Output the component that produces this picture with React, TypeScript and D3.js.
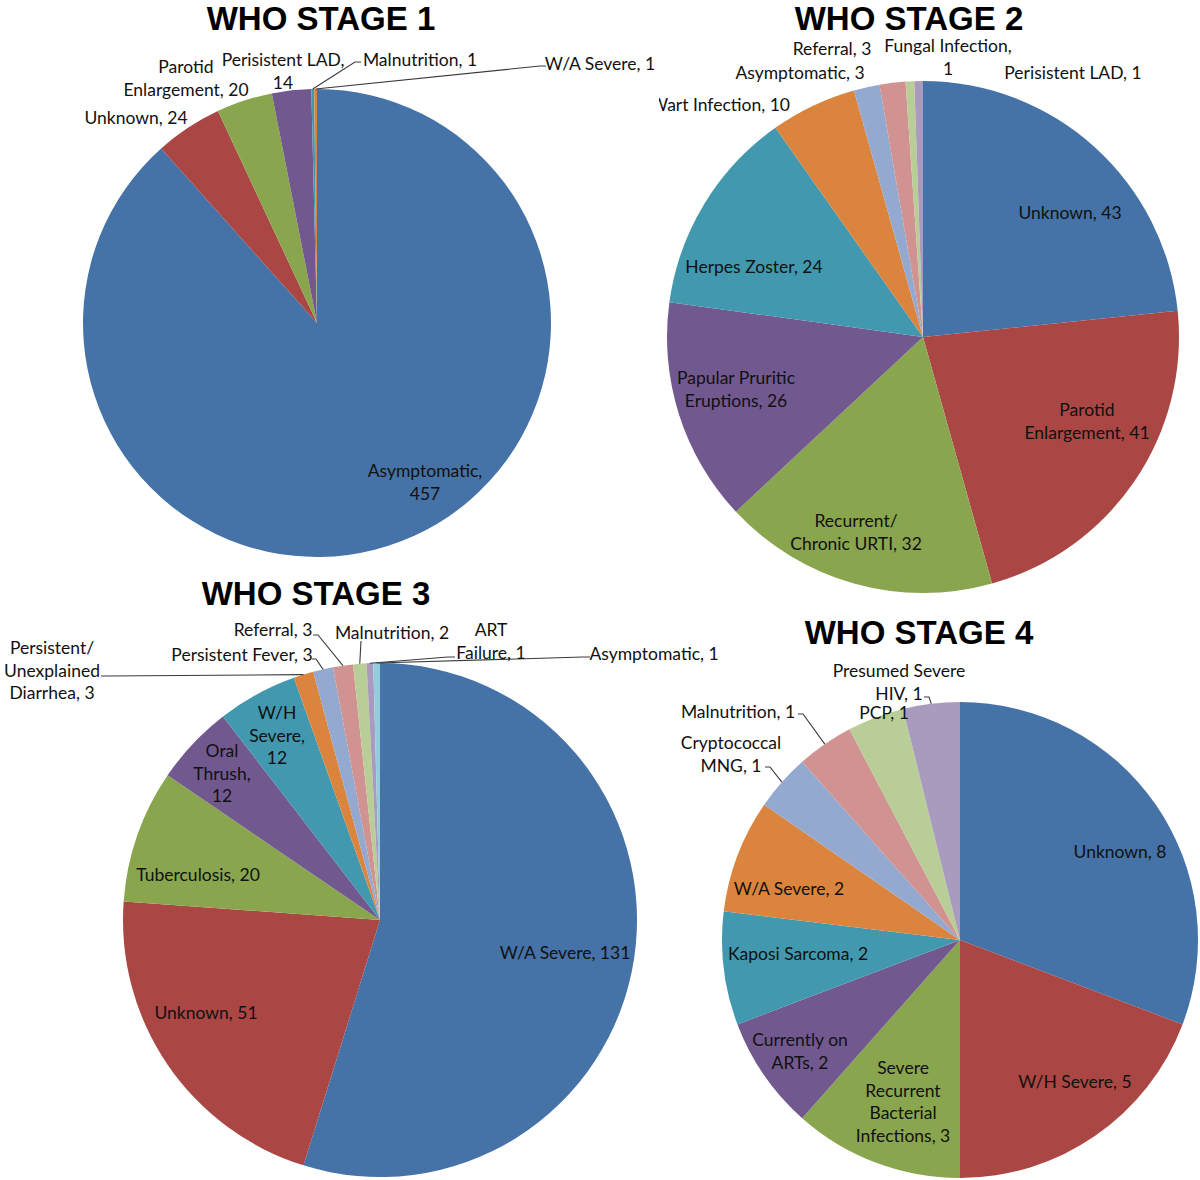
import React from 'react';
import * as d3 from 'd3';

// slice names and counts, clockwise from 12 o'clock
const stage1Names = ['Asymptomatic', 'Unknown', 'Parotid Enlargement', 'Perisistent LAD', 'Malnutrition', 'W/A Severe'];
const stage1Values = [457, 24, 20, 14, 1, 1];

const stage2Names = [
  'Unknown', 'Parotid Enlargement', 'Recurrent/Chronic URTI', 'Papular Pruritic Eruptions', 'Herpes Zoster',
  'Wart Infection', 'Asymptomatic', 'Referral', 'Fungal Infection', 'Perisistent LAD',
];
const stage2Values = [43, 41, 32, 26, 24, 10, 3, 3, 1, 1];

const stage3Names = [
  'W/A Severe', 'Unknown', 'Tuberculosis', 'Oral Thrush', 'W/H Severe', 'Persistent/Unexplained Diarrhea',
  'Persistent Fever', 'Referral', 'Malnutrition', 'ART Failure', 'Asymptomatic',
];
const stage3Values = [131, 51, 20, 12, 12, 3, 3, 3, 2, 1, 1];

const stage4Names = [
  'Unknown', 'W/H Severe', 'Severe Recurrent Bacterial Infections', 'Currently on ARTs', 'Kaposi Sarcoma',
  'W/A Severe', 'Cryptococcal MNG', 'Malnutrition', 'PCP', 'Presumed Severe HIV',
];
const stage4Values = [8, 5, 3, 2, 2, 2, 1, 1, 1, 1];

const palette = [
  '#4572A7', '#AA4643', '#89A54E', '#71588F', '#4198AF', '#DB843D',
  '#93A9CF', '#D19392', '#B9CD96', '#A99BBD', '#93CDDD',
];

type LabelPos = { dx: number; dy: number; wrap: number[]; leader?: [number, number][] };

// label placement relative to each pie centre (first line centre)
const stage1Layout: LabelPos[] = [
  { dx: 108, dy: 147, wrap: [1, 1] },
  { dx: -181, dy: -206, wrap: [2] },
  { dx: -131, dy: -257, wrap: [1, 2] },
  { dx: -34, dy: -264, wrap: [2, 1] },
  { dx: 103, dy: -264, wrap: [2], leader: [[38, -261], [44, -261]] },
  { dx: 283, dy: -260, wrap: [3], leader: [[223, -257], [229, -257]] },
];

const stage2Layout: LabelPos[] = [
  { dx: 147, dy: -125, wrap: [2] },
  { dx: 164, dy: 72, wrap: [1, 2] },
  { dx: -67, dy: 183, wrap: [1, 3] },
  { dx: -187, dy: 40, wrap: [2, 2] },
  { dx: -169, dy: -71, wrap: [3] },
  { dx: -203, dy: -233, wrap: [3] },
  { dx: -123, dy: -265, wrap: [2] },
  { dx: -91, dy: -289, wrap: [2] },
  { dx: 25, dy: -292, wrap: [2, 1] },
  { dx: 150, dy: -265, wrap: [3] },
];

const stage3Layout: LabelPos[] = [
  { dx: 185, dy: 32, wrap: [3] },
  { dx: -174, dy: 92, wrap: [2] },
  { dx: -182, dy: -46, wrap: [2] },
  { dx: -158, dy: -170, wrap: [1, 1, 1] },
  { dx: -103, dy: -208, wrap: [1, 1, 1] },
  { dx: -328, dy: -273, wrap: [1, 1, 2], leader: [[-274, -244], [-279, -244]] },
  { dx: -138, dy: -266, wrap: [3], leader: [[-64, -261], [-68, -261]] },
  { dx: -107, dy: -291, wrap: [2], leader: [[-62, -285], [-67, -285]] },
  { dx: 12, dy: -288, wrap: [2], leader: [[-19, -279]] },
  { dx: 111, dy: -291, wrap: [1, 2], leader: [[68, -263], [75, -263]] },
  { dx: 274, dy: -267, wrap: [2], leader: [[203, -263], [210, -263]] },
];

const stage4Layout: LabelPos[] = [
  { dx: 160, dy: -89, wrap: [2] },
  { dx: 115, dy: 141, wrap: [3] },
  { dx: -57, dy: 127, wrap: [1, 1, 1, 2] },
  { dx: -160, dy: 99, wrap: [2, 2] },
  { dx: -162, dy: 13, wrap: [3] },
  { dx: -171, dy: -52, wrap: [3] },
  { dx: -229, dy: -198, wrap: [1, 2], leader: [[-190, -173], [-195, -173]] },
  { dx: -222, dy: -229, wrap: [2], leader: [[-157, -226], [-162, -226]] },
  { dx: -76, dy: -228, wrap: [2] },
  { dx: -61, dy: -270, wrap: [2, 2], leader: [[-31, -243], [-36, -243]] },
];

const charts = [
  { id: 1, title: 'WHO STAGE 1', names: stage1Names, values: stage1Values, layout: stage1Layout, cx: 317, cy: 323, r: 234, tx: 321, ty: 30 },
  { id: 2, title: 'WHO STAGE 2', names: stage2Names, values: stage2Values, layout: stage2Layout, cx: 923, cy: 337, r: 256, tx: 909, ty: 30, clipX: 659 },
  { id: 3, title: 'WHO STAGE 3', names: stage3Names, values: stage3Values, layout: stage3Layout, cx: 380, cy: 920, r: 257, tx: 316, ty: 605 },
  { id: 4, title: 'WHO STAGE 4', names: stage4Names, values: stage4Values, layout: stage4Layout, cx: 960, cy: 940, r: 238, tx: 919, ty: 644 },
];

const labelFont = 'Lato, "Open Sans", sans-serif';
const lineHeight = 22.5;

function splitLines(text: string, wrap: number[]) {
  const tokens = text.split(' ').flatMap(t =>
    t.length > 8 && t.includes('/') ? [t.slice(0, t.indexOf('/') + 1), t.slice(t.indexOf('/') + 1)] : [t],
  );
  const lines: string[] = [];
  let i = 0;
  wrap.forEach(n => {
    let s = '';
    tokens.slice(i, i + n).forEach(t => {
      s += s === '' || s.endsWith('/') ? t : ' ' + t;
    });
    lines.push(s);
    i += n;
  });
  return lines;
}

const PieChart = ({ chart }) => {
  const pie = d3.pie<number>().sort(null).value(d => d);
  const arcs = pie(chart.values);
  const arc = d3.arc<d3.PieArcDatum<number>>().innerRadius(0).outerRadius(chart.r);
  const edge = d3.arc<d3.PieArcDatum<number>>().innerRadius(chart.r).outerRadius(chart.r);
  const line = d3.line();

  return (
    <g>
      <text
        x={chart.tx}
        y={chart.ty}
        textAnchor="middle"
        fontFamily='"Liberation Sans", Arial, sans-serif'
        fontWeight="bold"
        fontSize={33}
        fill="#000"
      >
        {chart.title}
      </text>
      {chart.clipX && (
        <defs>
          <clipPath id={`clip${chart.id}`}>
            <rect x={chart.clipX} y={0} width={1200 - chart.clipX} height={600} />
          </clipPath>
        </defs>
      )}
      <g clipPath={chart.clipX ? `url(#clip${chart.id})` : undefined}>
        <g transform={`translate(${chart.cx},${chart.cy})`}>
          {arcs.map((a, i) => (
            <path key={i} d={arc(a)} fill={palette[i]} />
          ))}
          {arcs.map((a, i) => {
            const pos = chart.layout[i];
            if (!pos.leader) return null;
            const pts = [edge.centroid(a) as [number, number], ...pos.leader];
            return <path key={'l' + i} d={line(pts)} fill="none" stroke="#3a3a3a" strokeWidth={1.1} />;
          })}
          {arcs.map((a, i) => {
            const pos = chart.layout[i];
            const lines = splitLines(`${chart.names[i]}, ${chart.values[i]}`, pos.wrap);
            return (
              <text
                key={'t' + i}
                textAnchor="middle"
                fontFamily={labelFont}
                fontSize={17.5}
                fill="#111"
                dominantBaseline="central"
              >
                {lines.map((s, j) => (
                  <tspan key={j} x={pos.dx} y={pos.dy + j * lineHeight}>
                    {s}
                  </tspan>
                ))}
              </text>
            );
          })}
        </g>
      </g>
    </g>
  );
};

export default function App() {
  return (
    <svg
      width={1200}
      height={1180}
      style={{ position: 'absolute', left: 0, top: 0, background: '#fff' }}
    >
      <rect width={1200} height={1180} fill="#fff" />
      {charts.map(c => (
        <PieChart key={c.id} chart={c} />
      ))}
    </svg>
  );
}
